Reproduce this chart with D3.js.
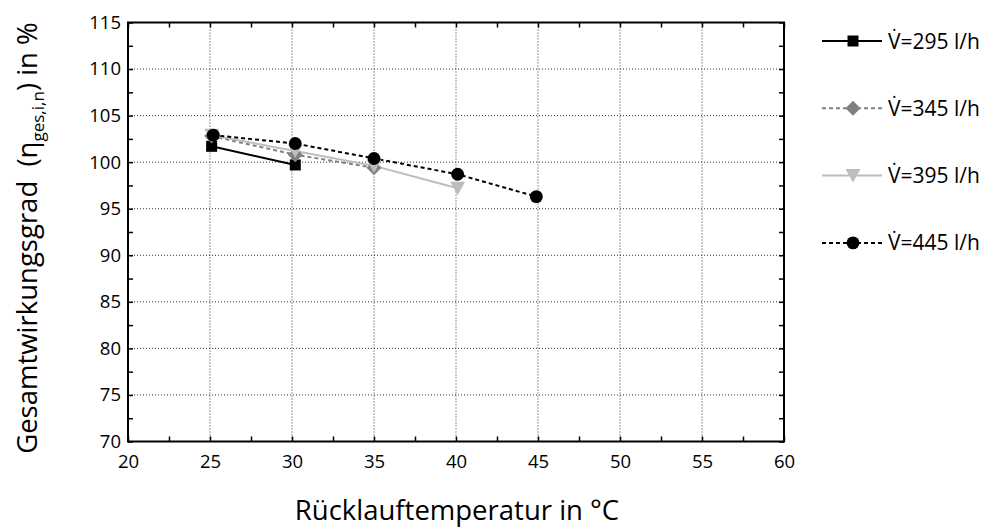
<!DOCTYPE html>
<html>
<head>
<meta charset="utf-8">
<script src="https://cdn.jsdelivr.net/npm/d3@7/dist/d3.min.js"></script>
<style>
  body { margin: 0; background: #fff; }
  text { font-family: "Open Sans", "Noto Sans", sans-serif; fill: #000; }
</style>
</head>
<body>
<div id="chart"></div>
<script>
var width = 993,
    height = 529;

var margin = {left: 128, top: 22.5, right: 209, bottom: 87.5};

// data
var flows = ["295", "345", "395", "445"];
var temps295 = [25.1, 30.2];
var eff295 = [101.7, 99.7];
var temps345 = [25.1, 30.2, 35.0];
var eff345 = [102.8, 100.8, 99.4];
var temps395 = [25.1, 30.2, 35.0, 40.1];
var eff395 = [102.9, 101.2, 99.6, 97.2];
var temps445 = [25.2, 30.2, 35.0, 40.1, 44.9];
var eff445 = [102.9, 102.0, 100.4, 98.7, 96.3];

var xTicks = [20, 25, 30, 35, 40, 45, 50, 55, 60];
var yTicks = [70, 75, 80, 85, 90, 95, 100, 105, 110, 115];

var series = [
  {name: flows[0], x: temps295, y: eff295, color: "#000000", dash: null, symbol: "square"},
  {name: flows[1], x: temps345, y: eff345, color: "#808080", dash: "4,3", symbol: "diamond"},
  {name: flows[2], x: temps395, y: eff395, color: "#bdbdbd", dash: null, symbol: "tri"},
  {name: flows[3], x: temps445, y: eff445, color: "#000000", dash: "4,3", symbol: "circle"}
];

var svg = d3.select("#chart")
  .append("svg")
  .attr("width", width)
  .attr("height", height);

var x = d3.scaleLinear().domain([20, 60]).range([margin.left, width - margin.right]);
var y = d3.scaleLinear().domain([70, 115]).range([height - margin.bottom, margin.top]);

// grid
svg.append("g")
  .selectAll("line.vg")
  .data(xTicks.slice(1, -1))
  .enter().append("line")
  .attr("x1", d => x(d)).attr("x2", d => x(d))
  .attr("y1", y(70)).attr("y2", y(115))
  .attr("stroke", "#333").attr("stroke-width", 1).attr("stroke-dasharray", "1,2");
svg.append("g")
  .selectAll("line.hg")
  .data(yTicks.slice(1, -1))
  .enter().append("line")
  .attr("x1", x(20)).attr("x2", x(60))
  .attr("y1", d => y(d)).attr("y2", d => y(d))
  .attr("stroke", "#333").attr("stroke-width", 1).attr("stroke-dasharray", "1,2");

// axes, ticks inward on all four sides
var minorX = d3.range(20, 60.1, 2.5);
var minorY = d3.range(70, 115.1, 2.5);

function styleAxis(g) {
  g.select(".domain").remove();
  g.selectAll(".tick line").attr("stroke", "#000").attr("stroke-width", 1.5);
  g.selectAll(".tick text").style("font-size", "18.5px").style("font-family", "'Open Sans', sans-serif");
}

svg.append("g")
  .attr("transform", "translate(0," + y(70) + ")")
  .call(d3.axisBottom(x).tickValues(minorX).tickSize(-5)
    .tickFormat(d => xTicks.indexOf(d) >= 0 ? d : ""))
  .call(styleAxis)
  .call(g => g.selectAll(".tick text").attr("y", 13));

svg.append("g")
  .attr("transform", "translate(0," + y(115) + ")")
  .call(d3.axisTop(x).tickValues(minorX).tickSize(-5).tickFormat(""))
  .call(styleAxis);

svg.append("g")
  .attr("transform", "translate(" + x(20) + ",0)")
  .call(d3.axisLeft(y).tickValues(minorY).tickSize(-5)
    .tickFormat(d => yTicks.indexOf(d) >= 0 ? d : ""))
  .call(styleAxis)
  .call(g => g.selectAll(".tick text").attr("x", -7));

svg.append("g")
  .attr("transform", "translate(" + x(60) + ",0)")
  .call(d3.axisRight(y).tickValues(minorY).tickSize(-5).tickFormat(""))
  .call(styleAxis);

// frame
svg.append("rect")
  .attr("x", x(20)).attr("y", y(115))
  .attr("width", x(60) - x(20)).attr("height", y(70) - y(115))
  .attr("fill", "none").attr("stroke", "#000").attr("stroke-width", 2);

// markers
function markerPath(s) {
  if (s.symbol === "tri") return "M-7.5,-6.5L7.5,-6.5L0,7Z";
  if (s.symbol === "diamond") return "M0,-7.5L7.5,0L0,7.5L-7.5,0Z";
  if (s.symbol === "square") return "M-5.5,-5.5H5.5V5.5H-5.5Z";
  return d3.symbol().type(d3.symbolCircle).size(130)();
}

var line = d3.line().x(d => x(d[0])).y(d => y(d[1]));

series.forEach(function(s) {
  var pts = s.x.map((v, i) => [v, s.y[i]]);
  svg.append("path")
    .datum(pts)
    .attr("d", line)
    .attr("fill", "none")
    .attr("stroke", s.color)
    .attr("stroke-width", 2)
    .attr("stroke-dasharray", s.dash);
});
series.forEach(function(s) {
  var pts = s.x.map((v, i) => [v, s.y[i]]);
  svg.append("g").selectAll("path")
    .data(pts)
    .enter().append("path")
    .attr("transform", d => "translate(" + x(d[0]) + "," + y(d[1]) + ")")
    .attr("d", markerPath(s))
    .attr("fill", s.color);
});

// legend
var legend = svg.append("g").attr("transform", "translate(822,41)");
var rows = legend.selectAll("g")
  .data(series)
  .enter().append("g")
  .attr("transform", (d, i) => "translate(0," + i * 67.3 + ")");
rows.append("line")
  .attr("x1", 0).attr("x2", 60).attr("y1", 0).attr("y2", 0)
  .attr("stroke", d => d.color).attr("stroke-width", 2)
  .attr("stroke-dasharray", d => d.dash);
rows.append("path")
  .attr("transform", "translate(31,0)")
  .attr("d", d => markerPath(d))
  .attr("fill", d => d.color);
rows.append("text")
  .attr("x", 66).attr("y", 7.5)
  .style("font-size", "21px")
  .text(d => "V\u0307=" + d.name + " l/h");

// axis titles
svg.append("text")
  .attr("x", 457).attr("y", 520)
  .attr("text-anchor", "middle")
  .style("font-size", "27.5px")
  .text("Rücklauftemperatur in °C");

var yt = svg.append("text")
  .attr("transform", "translate(37,238) rotate(-90)")
  .attr("text-anchor", "middle")
  .style("font-size", "27.5px");
yt.append("tspan").text("Gesamtwirkungsgrad\u00a0\u00a0(\u03b7");
yt.append("tspan").attr("dy", 7).style("font-size", "17px").text("ges,i,n");
yt.append("tspan").attr("dy", -7).text(") in %");
</script>
</body>
</html>
